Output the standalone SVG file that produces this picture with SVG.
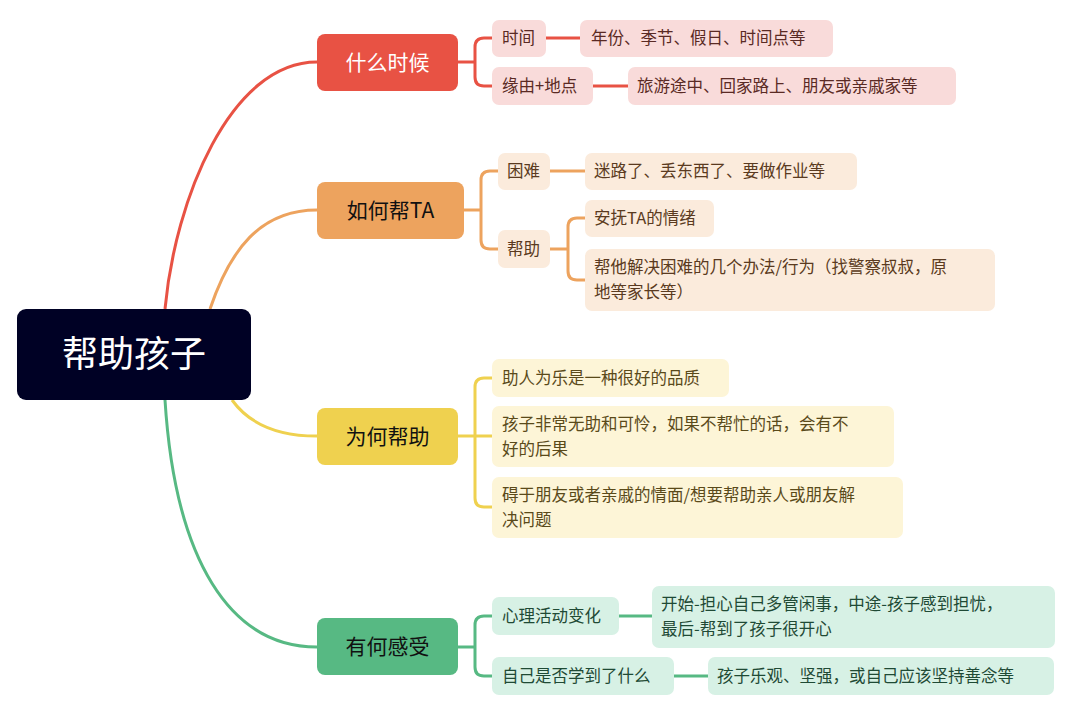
<svg xmlns="http://www.w3.org/2000/svg" width="1080" height="725" viewBox="0 0 1080 725">
<style>
text{font-family:"Noto Sans CJK SC","Noto Sans",sans-serif;}
.b{font-size:21px;}
.s{font-size:16.5px;}
.c path{fill:none;stroke-width:3;}
.r{fill:#F9DBDA}.o{fill:#FBEBDC}.y{fill:#FDF5D7}.g{fill:#D7F1E5}
.tr{fill:#5A2A24}.to{fill:#5A3A20}.ty{fill:#5A4A1A}.tg{fill:#1F4A35}
</style>
<rect width="1080" height="725" fill="#fff"/>
<g class="c" id="connectors">
<path stroke="#E85244" d="M165,309 C175,200 230,62 317,62"/>
<path stroke="#EDA35E" d="M210,309 C230,250 260,210 317,210"/>
<path stroke="#EFD14F" d="M232,400 C250,425 280,436 317,436"/>
<path stroke="#57B983" d="M165,400 C175,560 230,647 317,647"/>
<path stroke="#E85244" stroke-width="2.5" d="M458,62 H475 M492,38 H484 Q475,38 475,47 V77 Q475,86 484,86 H492 M546,38 H580 M593,86 H628"/>
<path stroke="#EDA35E" stroke-width="2.5" d="M464,210 H481 M498,171 H490 Q481,171 481,180 V240 Q481,249 490,249 H498 M550,171 H585 M550,249 H568 M585,218 H577 Q568,218 568,227 V271 Q568,280 577,280 H585"/>
<path stroke="#EFD14F" stroke-width="2.5" d="M458,436 H492 M492,378 H484 Q475,378 475,387 V498 Q475,507 484,507 H492"/>
<path stroke="#57B983" stroke-width="2.5" d="M458,647 H475 M492,616 H484 Q475,616 475,625 V667 Q475,676 484,676 H492 M619,616 H652 M674,676 H708"/>
</g>
<g id="root"><rect x="17" y="309" width="234" height="91" rx="9" fill="#000125"/><text x="134" y="367" font-size="36" fill="#fff" text-anchor="middle">帮助孩子</text></g>
<g id="n1"><rect x="317" y="34" width="141" height="57" rx="8" fill="#E85244"/><text class="b" x="387.5" y="70" fill="#fff" text-anchor="middle">什么时候</text></g>
<g id="n2"><rect x="317" y="182" width="147" height="57" rx="8" fill="#EDA35E"/><text class="b" x="390.5" y="218" fill="#111" text-anchor="middle">如何帮TA</text></g>
<g id="n3"><rect x="317" y="408" width="141" height="57" rx="8" fill="#EFD14F"/><text class="b" x="387.5" y="444" fill="#111" text-anchor="middle">为何帮助</text></g>
<g id="n4"><rect x="317" y="618" width="141" height="57" rx="8" fill="#57B983"/><text class="b" x="387.5" y="654" fill="#111" text-anchor="middle">有何感受</text></g>

<g id="r1"><rect class="r" x="492" y="20" width="54" height="37" rx="7"/><text class="s tr" x="502" y="44">时间</text></g>
<g id="r2"><rect class="r" x="580" y="20" width="253" height="37" rx="7"/><text class="s tr" x="591" y="44">年份、季节、假日、时间点等</text></g>
<g id="r3"><rect class="r" x="492" y="67" width="101" height="38" rx="7"/><text class="s tr" x="502" y="92">缘由+地点</text></g>
<g id="r4"><rect class="r" x="628" y="67" width="328" height="38" rx="7"/><text class="s tr" x="637" y="92">旅游途中、回家路上、朋友或亲戚家等</text></g>

<g id="o1"><rect class="o" x="498" y="153" width="52" height="37" rx="7"/><text class="s to" x="507" y="177">困难</text></g>
<g id="o2"><rect class="o" x="585" y="153" width="272" height="37" rx="7"/><text class="s to" x="594" y="177">迷路了、丢东西了、要做作业等</text></g>
<g id="o3"><rect class="o" x="498" y="230" width="52" height="38" rx="7"/><text class="s to" x="507" y="255">帮助</text></g>
<g id="o4"><rect class="o" x="585" y="200" width="129" height="37" rx="7"/><text class="s to" x="594" y="224">安抚TA的情绪</text></g>
<g id="o5"><rect class="o" x="585" y="249" width="410" height="62" rx="7"/><text class="s to" x="594" y="273">帮他解决困难的几个办法/行为（找警察叔叔，原</text><text class="s to" x="594" y="298">地等家长等）</text></g>

<g id="y1"><rect class="y" x="492" y="359" width="237" height="38" rx="7"/><text class="s ty" x="502" y="384">助人为乐是一种很好的品质</text></g>
<g id="y2"><rect class="y" x="492" y="406" width="402" height="61" rx="7"/><text class="s ty" x="502" y="430">孩子非常无助和可怜，如果不帮忙的话，会有不</text><text class="s ty" x="502" y="455">好的后果</text></g>
<g id="y3"><rect class="y" x="492" y="477" width="411" height="61" rx="7"/><text class="s ty" x="502" y="501">碍于朋友或者亲戚的情面/想要帮助亲人或朋友解</text><text class="s ty" x="502" y="526">决问题</text></g>

<g id="g1"><rect class="g" x="492" y="597" width="127" height="38" rx="7"/><text class="s tg" x="502" y="622">心理活动变化</text></g>
<g id="g2"><rect class="g" x="652" y="586" width="403" height="62" rx="7"/><text class="s tg" x="661" y="610">开始-担心自己多管闲事，中途-孩子感到担忧，</text><text class="s tg" x="661" y="635">最后-帮到了孩子很开心</text></g>
<g id="g3"><rect class="g" x="492" y="657" width="182" height="38" rx="7"/><text class="s tg" x="502" y="682">自己是否学到了什么</text></g>
<g id="g4"><rect class="g" x="708" y="657" width="346" height="38" rx="7"/><text class="s tg" x="717" y="682">孩子乐观、坚强，或自己应该坚持善念等</text></g>
</svg>
